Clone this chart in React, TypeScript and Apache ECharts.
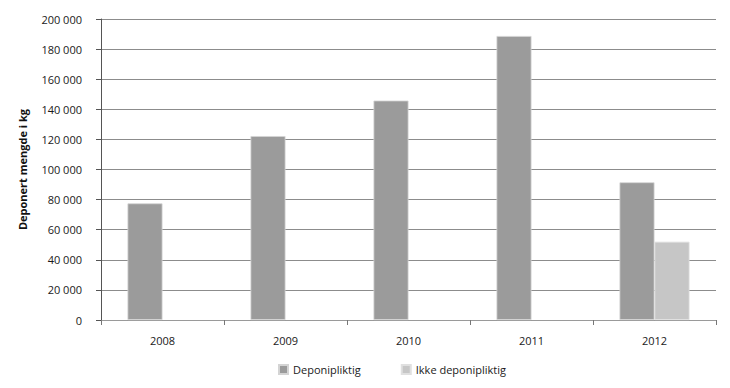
import React, { useEffect, useRef } from "react";
import * as echarts from "echarts";

const years = ["2008", "2009", "2010", "2011", "2012"];
const deponipliktig = [77500, 122200, 145800, 188700, 91500];
const ikkeDeponipliktig = [null, null, null, null, 52000];
const seriesNames = ["Deponipliktig", "Ikke deponipliktig"];
const yAxisTitle = "Deponert mengde i kg";

const FONT = "'Open Sans', sans-serif";

function fmt(v: number): string {
  return String(v).replace(/\B(?=(\d{3})+(?!\d))/g, " ");
}

export default function App() {
  const ref = useRef<HTMLDivElement>(null);
  useEffect(() => {
    if (!ref.current) return;
    const chart = echarts.init(ref.current, undefined, { renderer: "svg" });
    chart.setOption({
      animation: false,
      backgroundColor: "#ffffff",
      textStyle: { fontFamily: FONT },
      grid: { left: 101, right: 14, top: 19, bottom: 68, containLabel: false },
      legend: {
        left: 273,
        top: 359,
        itemWidth: 9,
        itemHeight: 9,
        itemGap: 40,
        icon: "rect",
        textStyle: { fontFamily: FONT, fontSize: 11, color: "#1a1a1a" },
        data: seriesNames,
      },
      xAxis: {
        type: "category",
        data: years,
        axisLine: { lineStyle: { color: "#9a9a9a", width: 1 } },
        axisTick: { show: true, length: 5, lineStyle: { color: "#777" } },
        axisLabel: { fontFamily: FONT, fontSize: 11, color: "#1a1a1a", margin: 15 },
      },
      yAxis: {
        type: "value",
        min: 0,
        max: 200000,
        interval: 20000,
        name: yAxisTitle,
        nameLocation: "middle",
        nameGap: 73,
        nameRotate: 90,
        nameTextStyle: { fontFamily: FONT, fontSize: 11, fontWeight: "bold", color: "#111" },
        axisLine: { show: true, lineStyle: { color: "#555", width: 1 } },
        axisTick: { show: true, length: 5, lineStyle: { color: "#555" } },
        axisLabel: {
          fontFamily: FONT,
          fontSize: 11,
          color: "#1a1a1a",
          margin: 19,
          formatter: (v: number) => fmt(v),
        },
        splitLine: { lineStyle: { color: "#8c8c8c", width: 1 } },
      },
      series: [
        {
          name: seriesNames[0],
          type: "bar",
          data: deponipliktig,
          barWidth: 35,
          barGap: "0%",
          itemStyle: { color: "#9b9b9b", borderColor: "#d4d4d4", borderWidth: 0.8 },
        },
        {
          name: seriesNames[1],
          type: "bar",
          data: ikkeDeponipliktig,
          barWidth: 35,
          barGap: "0%",
          itemStyle: { color: "#c6c6c6", borderColor: "#e0e0e0", borderWidth: 0.8 },
        },
      ],
    });
    return () => chart.dispose();
  }, []);
  return <div ref={ref} style={{ width: 730, height: 388, position: "absolute", left: 0, top: 0 }} />;
}
